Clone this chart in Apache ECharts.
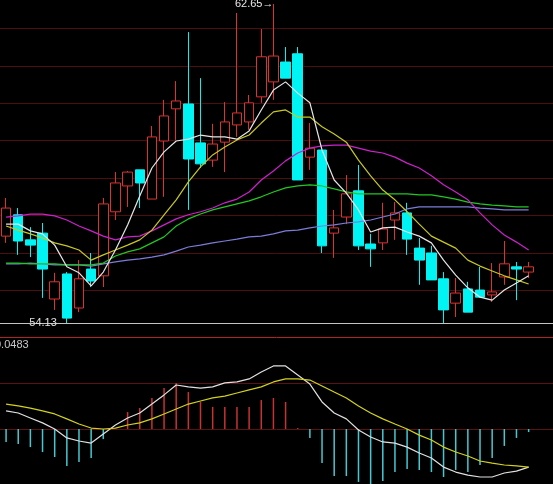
<!DOCTYPE html>
<html>
<head>
<meta charset="utf-8">
<script src="https://cdn.jsdelivr.net/npm/echarts@6/dist/echarts.min.js"></script>
<style>
html,body{margin:0;padding:0;background:#000;}
#c{width:553px;height:484px;}
</style>
</head>
<body>
<div id="c"></div>
<script>
// ---- data ----
const days = ['1','2','3','4','5','6','7','8','9','10','11','12','13','14','15','16','17','18','19','20','21','22','23','24','25','26','27','28','29','30','31','32','33','34','35','36','37','38','39','40','41','42','43','44','45','46'];

const open  = [56.45,57.02,56.35,56.53,54.77,55.44,54.53,55.57,55.39,57.10,57.79,58.22,57.44,58.99,59.85,59.98,58.94,58.48,58.96,59.42,59.50,60.17,60.57,61.10,61.32,58.56,58.75,56.53,56.96,57.66,56.24,56.27,56.88,57.07,56.13,56.00,55.31,54.66,55.04,55.01,54.88,55.36,55.63,55.49];
const close = [57.20,56.32,56.21,55.57,55.23,54.26,55.31,55.25,57.31,57.87,58.16,57.87,59.10,59.66,60.06,58.51,58.38,58.91,59.50,59.74,60.01,61.24,61.26,60.67,57.95,58.80,56.19,56.67,57.58,56.19,56.11,56.64,57.07,56.37,55.81,55.28,54.48,54.93,54.42,54.82,54.96,55.71,55.57,55.63];
const low   = [56.27,55.95,55.89,54.80,54.48,54.13,54.42,55.09,55.09,56.88,57.23,57.20,57.44,57.50,59.02,57.15,58.27,58.30,58.16,59.10,59.29,60.01,60.09,60.67,57.95,58.22,56.00,55.87,56.77,56.08,55.63,56.08,56.35,55.95,55.15,55.28,54.13,54.29,54.42,54.82,54.69,55.15,54.74,55.33];
const high  = [57.47,57.20,56.69,56.80,55.47,55.49,55.81,56.00,57.47,58.16,58.19,58.22,59.39,60.09,60.59,61.90,60.67,59.45,60.03,62.41,60.22,61.98,62.65,61.50,61.50,59.47,58.75,57.15,58.08,58.35,56.51,57.34,57.36,57.34,56.40,56.19,55.49,55.33,55.23,55.63,55.73,56.32,55.76,55.76];

const ma5  = [56.77,56.77,56.59,56.51,56.21,55.63,55.47,55.12,55.49,56.08,56.75,57.52,58.27,58.70,58.99,59.04,59.15,59.10,59.10,59.04,59.26,59.82,60.35,60.57,60.27,60.01,58.75,57.95,57.60,57.15,56.56,56.67,56.69,56.56,56.45,56.27,55.81,55.41,55.07,54.82,54.74,55.01,55.20,55.39];
const ma10 = [56.72,56.61,56.51,56.40,56.27,56.19,56.08,55.81,55.95,56.08,56.21,56.35,56.61,57.02,57.42,57.90,58.30,58.62,58.83,59.02,59.15,59.47,59.77,59.82,59.63,59.63,59.37,59.18,58.96,58.48,58.06,57.68,57.42,57.10,56.77,56.45,56.29,56.13,55.81,55.65,55.52,55.39,55.28,55.17];
const ma20 = [56.96,56.99,57.04,57.04,56.99,56.88,56.72,56.59,56.45,56.35,56.43,56.45,56.59,56.75,56.91,57.02,57.10,57.20,57.34,57.44,57.63,57.95,58.19,58.46,58.67,58.80,58.86,58.88,58.88,58.80,58.72,58.67,58.56,58.40,58.27,58.06,57.82,57.63,57.42,57.07,56.75,56.48,56.29,56.08];
const ma30 = [55.73,55.73,55.71,55.71,55.71,55.68,55.68,55.68,55.73,55.92,56.03,56.11,56.27,56.43,56.72,56.91,57.04,57.15,57.23,57.31,57.39,57.50,57.63,57.74,57.79,57.82,57.79,57.71,57.63,57.58,57.58,57.58,57.58,57.58,57.55,57.55,57.50,57.44,57.36,57.31,57.28,57.26,57.23,57.23];
const ma60 = [55.71,55.71,55.73,55.71,55.68,55.68,55.68,55.65,55.71,55.76,55.81,55.84,55.89,55.95,56.05,56.16,56.21,56.27,56.32,56.37,56.43,56.45,56.51,56.59,56.61,56.67,56.72,56.75,56.80,56.83,56.88,56.96,57.04,57.18,57.23,57.23,57.23,57.23,57.23,57.20,57.18,57.15,57.15,57.15];

const dif  = [0.0095,0.0084,0.0058,0.0032,0.0000,-0.0047,-0.0063,-0.0074,-0.0026,0.0021,0.0058,0.0084,0.0131,0.0179,0.0231,0.0221,0.0215,0.0221,0.0242,0.0247,0.0263,0.0299,0.0331,0.0331,0.0284,0.0236,0.0142,0.0084,0.0053,-0.0005,-0.0042,-0.0068,-0.0074,-0.0095,-0.0126,-0.0152,-0.0200,-0.0226,-0.0242,-0.0252,-0.0252,-0.0231,-0.0221,-0.0200];
const dea  = [0.0131,0.0121,0.0110,0.0095,0.0079,0.0053,0.0026,0.0005,0.0000,0.0005,0.0021,0.0032,0.0053,0.0079,0.0105,0.0131,0.0147,0.0163,0.0173,0.0189,0.0205,0.0221,0.0247,0.0263,0.0263,0.0257,0.0226,0.0194,0.0163,0.0121,0.0084,0.0053,0.0026,0.0000,-0.0032,-0.0058,-0.0095,-0.0121,-0.0142,-0.0168,-0.0179,-0.0189,-0.0194,-0.0200];
const hist = [-0.0068,-0.0079,-0.0095,-0.0121,-0.0147,-0.0194,-0.0173,-0.0152,-0.0053,0.0000,0.0089,0.0110,0.0163,0.0215,0.0242,0.0194,0.0142,0.0116,0.0116,0.0116,0.0116,0.0152,0.0163,0.0142,0.0005,-0.0047,-0.0179,-0.0247,-0.0247,-0.0278,-0.0299,-0.0273,-0.0226,-0.0210,-0.0215,-0.0226,-0.0252,-0.0215,-0.0226,-0.0189,-0.0152,-0.0089,-0.0047,-0.0016];

const priceGridMin = 55, priceGridMax = 62, priceGridStep = 1;
const macdTopLabel = '0.0483';
const macdMax = 0.0483, macdMid = 0.02415, macdMin = -0.028875;
const highIndex = 22, highValue = 62.65;
const lowIndex = 5, lowValue = 54.13;

// ---- chart ----
const candles = open.map((o, i) => [o, close[i], low[i], high[i]]);
const chart = echarts.init(document.getElementById('c'), null, {renderer: 'canvas'});
const FONT = 'Liberation Sans, Arial, DejaVu Sans, sans-serif';
const hiddenX = (g) => ({type: 'category', gridIndex: g, data: days, boundaryGap: true, show: false});
const pxPerUnit = 37.44;

chart.setOption({
  backgroundColor: '#000000',
  animation: false,
  grid: [
    {left: 0, width: 559, top: -9.104, height: 374.4, outerBoundsMode: 'none'},
    {left: 0, width: 559, top: 337, height: 147, outerBoundsMode: 'none'},
    {left: 0, width: 553, top: -9.104 + (63 - priceGridMax) * pxPerUnit, height: (priceGridMax - priceGridMin) * pxPerUnit, outerBoundsMode: 'none'},
    {left: 0, width: 553, top: 337, height: 92, outerBoundsMode: 'none'}
  ],
  xAxis: [hiddenX(0), hiddenX(1), hiddenX(2), hiddenX(3)],
  yAxis: [
    {type: 'value', gridIndex: 0, min: 53, max: 63, show: false},
    {type: 'value', gridIndex: 1, min: macdMin, max: macdMax, show: false},
    {type: 'value', gridIndex: 2, min: priceGridMin, max: priceGridMax, interval: priceGridStep,
     axisLine: {show: false}, axisTick: {show: false}, axisLabel: {show: false},
     splitLine: {show: true, lineStyle: {color: '#4c0e0e', width: 1}}},
    {type: 'value', gridIndex: 3, min: 0, max: macdMax, interval: macdMid,
     axisLine: {show: false}, axisTick: {show: false}, axisLabel: {show: false},
     splitLine: {show: true, lineStyle: {color: ['#5a1212', '#5a1212', '#b02424'], width: 1}}}
  ],
  graphic: [
    {type: 'text', z: 100, style: {x: -5, y: 344.5, text: macdTopLabel, fill: '#c8c8c8', font: '11px ' + FONT, verticalAlign: 'middle', align: 'left'}}
  ],
  series: [
    {
      type: 'candlestick', xAxisIndex: 0, yAxisIndex: 0, data: candles, barWidth: 10, z: 2,
      itemStyle: {color: '#000000', color0: '#00f4f4', borderColor: '#dc3232', borderColor0: '#00f4f4', borderWidth: 1},
      markLine: {
        silent: true, symbol: ['none', 'none'], label: {show: false},
        lineStyle: {color: '#c4c4c4', type: 'solid', width: 1},
        data: [{yAxis: lowValue}]
      },
      markPoint: {
        silent: true, symbol: 'circle', symbolSize: 0,
        data: [
          {coord: [days[highIndex], highValue], label: {show: true, position: 'left', distance: 0, formatter: highValue.toFixed(2) + '\u2192', color: '#e8e8e8', fontSize: 11, fontFamily: FONT}},
          {coord: [days[lowIndex], lowValue], label: {show: true, position: 'left', distance: 10, formatter: lowValue.toFixed(2), color: '#e0e0e0', fontSize: 11, fontFamily: FONT}}
        ]
      }
    },
    {type: 'line', xAxisIndex: 0, yAxisIndex: 0, data: ma60, symbol: 'none', z: 3, lineStyle: {color: '#7c7cd8', width: 1.2}},
    {type: 'line', xAxisIndex: 0, yAxisIndex: 0, data: ma30, symbol: 'none', z: 3, lineStyle: {color: '#22c822', width: 1.2}},
    {type: 'line', xAxisIndex: 0, yAxisIndex: 0, data: ma20, symbol: 'none', z: 3, lineStyle: {color: '#cc22cc', width: 1.2}},
    {type: 'line', xAxisIndex: 0, yAxisIndex: 0, data: ma10, symbol: 'none', z: 3, lineStyle: {color: '#c8c822', width: 1.2}},
    {type: 'line', xAxisIndex: 0, yAxisIndex: 0, data: ma5, symbol: 'none', z: 3, lineStyle: {color: '#e6e6e6', width: 1.2}},
    {type: 'bar', xAxisIndex: 1, yAxisIndex: 1, data: hist, barWidth: 1.5, z: 2,
     itemStyle: {color: (p) => p.value >= 0 ? '#c83232' : '#46c8d2'}},
    {type: 'line', xAxisIndex: 1, yAxisIndex: 1, data: dif, symbol: 'none', z: 3, lineStyle: {color: '#e0e0e0', width: 1.2}},
    {type: 'line', xAxisIndex: 1, yAxisIndex: 1, data: dea, symbol: 'none', z: 3, lineStyle: {color: '#d2d21e', width: 1.2}}
  ]
});
</script>
</body>
</html>
